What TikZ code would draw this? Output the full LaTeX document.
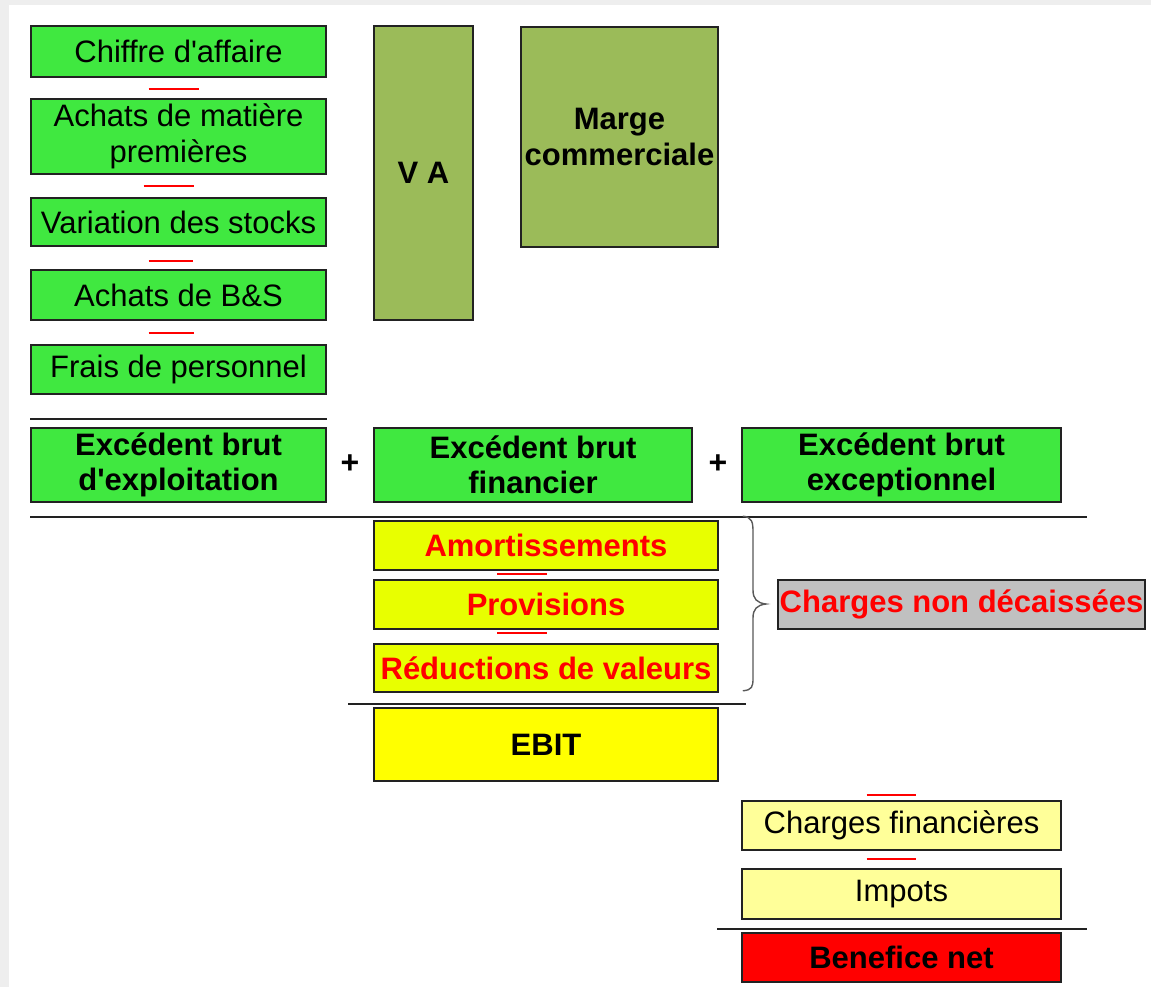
\documentclass[tikz,border=0pt]{standalone}
\usepackage{fontspec}
\setmainfont{Liberation Sans}[Ligatures=TeXOff]
\usetikzlibrary{calc}
\definecolor{vert}{HTML}{40E840}
\definecolor{olive}{HTML}{9BBB59}
\definecolor{jaune}{HTML}{FFFF00}
\definecolor{jauneVif}{HTML}{E8FF00}
\definecolor{jaunePale}{HTML}{FFFF99}
\definecolor{gris}{HTML}{C0C0C0}
\definecolor{trait}{HTML}{222222}
\definecolor{fond}{HTML}{EEEEEE}

\begin{document}
\begin{tikzpicture}[x=1pt,y=-1pt,
  poste/.style={draw=trait, line width=1.6pt, inner sep=0pt, align=center,
    font=\fontsize{31}{35.5}\selectfont},
  solde/.style={poste, font=\fontsize{31}{35.5}\selectfont\bfseries},
  moins/.style={draw=red, line width=1.5pt},
  barre/.style={draw=trait, line width=1.6pt},
  signe/.style={inner sep=0pt, font=\fontsize{32}{34}\selectfont\bfseries}]

% page and its shadowed border
\useasboundingbox (0,0) rectangle (1151,987);
\fill[fond] (0,0) rectangle (1151,987);
\fill[white] (9,5) rectangle (1151,987);

% operating items
\node[poste, fill=vert, minimum width=295pt, minimum height=51pt] (ca) at (178.5,51.5) {Chiffre d'affaire};
\node[poste, fill=vert, minimum width=295pt, minimum height=75pt] (amp) at (178.5,136.5) {Achats de matière\\premières};
\node[poste, fill=vert, minimum width=295pt, minimum height=48pt] (stk) at (178.5,222) {Variation des stocks};
\node[poste, fill=vert, minimum width=295pt, minimum height=50pt] (bs) at (178.5,295) {Achats de B\&S};
\node[poste, fill=vert, minimum width=295pt, minimum height=49pt] (pers) at (178.5,369.5) {Frais de personnel};

\draw[moins] ($(amp.north)+(-30,-9)$) -- ++(50,0);
\draw[moins] ($(stk.north)+(-35,-11)$) -- ++(50,0);
\draw[moins] ($(bs.north)+(-30,-8)$) -- ++(44,0);
\draw[moins] ($(pers.north)+(-30,-11)$) -- ++(45,0);

% intermediate margins
\node[solde, fill=olive, minimum width=99pt, minimum height=294pt] (va) at (423.5,173) {V A};
\node[solde, fill=olive, minimum width=197pt, minimum height=220pt] (mc) at (619.5,137) {Marge\\commerciale};

% gross surpluses
\draw[barre] ($(pers.south west)+(0,24)$) -- ($(pers.south east)+(0,24)$);
\node[solde, fill=vert, minimum width=295pt, minimum height=74pt] (ebe) at (178.5,465) {Excédent brut\\d'exploitation};
\node[solde, fill=vert, minimum width=318pt, minimum height=74pt] (ebf) at (533,465) {Excédent brut\\financier};
\node[solde, fill=vert, minimum width=319pt, minimum height=74pt] (ebx) at (901.5,465) {Excédent brut\\exceptionnel};
\node[signe] (p1) at (350,464) {+};
\node[signe] (p2) at (718,464) {+};
\draw[barre] ($(ebe.south west)+(0,14)$) -- ($(ebx.south east)+(25,14)$);

% non-cash charges
\node[solde, text=red, fill=jauneVif, minimum width=344pt, minimum height=49pt] (amo) at (546,545.5) {Amortissements};
\node[solde, text=red, fill=jauneVif, minimum width=344pt, minimum height=49pt] (prov) at (546,604.5) {Provisions};
\node[solde, text=red, fill=jauneVif, minimum width=344pt, minimum height=48pt] (red) at (546,668) {Réductions de valeurs};
\draw[moins] ($(prov.north)+(-49,-5)$) -- ++(50,0);
\draw[moins] ($(red.north)+(-49,-10)$) -- ++(50,0);

\coordinate (bh) at ($(amo.north east)+(24,-4)$);
\coordinate (bb) at ($(red.south east)+(24,-2)$);
\coordinate (bp) at (766,604);
\draw[draw=trait!75, line width=1.4pt]
  (bh) .. controls (752,517) and (753,522) .. (753,532) -- (753,590)
  .. controls (753,599) and (757,603) .. (bp)
  .. controls (757,605) and (753,609) .. (753,618) -- (753,678)
  .. controls (753,687) and (752,690) .. (bb);
\node[solde, text=red, fill=gris, minimum width=367pt, minimum height=49pt] (cnd) at (961.5,604.5) {Charges non décaissées};

% EBIT
\draw[barre] ($(red.south west)+(-25,11)$) -- ($(red.south east)+(27,11)$);
\node[solde, fill=jaune, minimum width=344pt, minimum height=73pt] (ebit) at (546,744.5) {EBIT};

% net result
\node[poste, fill=jaunePale, minimum width=319pt, minimum height=49pt] (cf) at (901.5,825.5) {Charges financières};
\node[poste, fill=jaunePale, minimum width=319pt, minimum height=50pt] (imp) at (901.5,894) {Impots};
\draw[moins] ($(cf.north)+(-35,-5)$) -- ++(49,0);
\draw[moins] ($(imp.north)+(-35,-9)$) -- ++(49,0);
\draw[barre] ($(imp.south west)+(-24,9)$) -- ($(imp.south east)+(25,9)$);
\node[solde, fill=red, minimum width=319pt, minimum height=49pt] (bn) at (901.5,957.5) {Benefice net};
\end{tikzpicture}
\end{document}
